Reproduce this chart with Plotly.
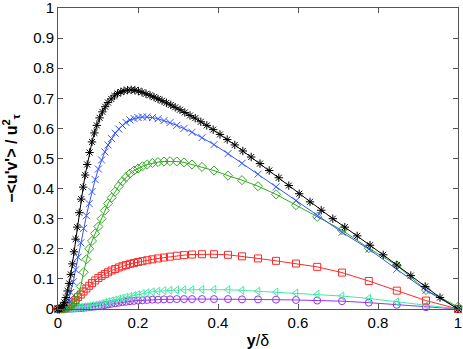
import plotly.graph_objects as go

# wall-normal positions (y/delta) of the stored profile points
y_fine = [0, 0.004, 0.008, 0.012, 0.016, 0.02, 0.024, 0.028, 0.032, 0.036, 0.04, 0.044, 0.048,
          0.053, 0.058, 0.063, 0.068, 0.073, 0.079, 0.085, 0.091, 0.097, 0.104, 0.111, 0.118,
          0.125, 0.133, 0.141, 0.149, 0.157, 0.165, 0.174, 0.183, 0.192, 0.201, 0.21, 0.22,
          0.23, 0.24, 0.25, 0.26, 0.271, 0.282, 0.293, 0.305, 0.317, 0.33, 0.343, 0.357, 0.372,
          0.388, 0.405, 0.423, 0.442, 0.462, 0.483, 0.505, 0.528, 0.552, 0.577, 0.603, 0.63,
          0.658, 0.687, 0.717, 0.748, 0.78, 0.813, 0.847, 0.882, 0.918, 0.955, 1.0]

y_coarse = [0, 0.005, 0.01, 0.015, 0.02, 0.026, 0.032, 0.038, 0.044, 0.05, 0.057, 0.064, 0.071,
            0.078, 0.085, 0.093, 0.101, 0.109, 0.117, 0.125, 0.134, 0.143, 0.152, 0.161, 0.17,
            0.18, 0.19, 0.2, 0.211, 0.223, 0.236, 0.25, 0.265, 0.28, 0.297, 0.315, 0.335, 0.36,
            0.39, 0.425, 0.46, 0.5, 0.545, 0.595, 0.648, 0.71, 0.777, 0.847, 0.92, 1.0]

# -<u'v'>/u_tau^2 profiles
uv_black = [0, 0.001, 0.004, 0.011, 0.022, 0.038, 0.06, 0.085, 0.115, 0.15, 0.19, 0.232, 0.272,
            0.32, 0.365, 0.405, 0.445, 0.48, 0.52, 0.555, 0.585, 0.61, 0.635, 0.655, 0.672,
            0.686, 0.698, 0.708, 0.716, 0.721, 0.725, 0.727, 0.728, 0.727, 0.724, 0.72, 0.715,
            0.71, 0.704, 0.698, 0.692, 0.685, 0.678, 0.67, 0.662, 0.653, 0.643, 0.634, 0.622, 0.61,
            0.596, 0.58, 0.563, 0.545, 0.525, 0.505, 0.483, 0.46, 0.436, 0.41, 0.383, 0.356,
            0.328, 0.3, 0.272, 0.243, 0.212, 0.18, 0.146, 0.111, 0.075, 0.038, 0.0]

uv_blue = [0, 0.0, 0.002, 0.006, 0.013, 0.028, 0.055, 0.09, 0.13, 0.172, 0.22, 0.268, 0.31,
           0.35, 0.39, 0.43, 0.465, 0.495, 0.522, 0.545, 0.566, 0.584, 0.598, 0.61, 0.62,
           0.628, 0.633, 0.636, 0.638, 0.638, 0.636, 0.632, 0.626, 0.619, 0.61, 0.6, 0.587, 0.569,
           0.546, 0.516, 0.484, 0.448, 0.406, 0.36, 0.31, 0.255, 0.199, 0.132, 0.062, 0.0]

uv_green = [0, 0, 0.001, 0.002, 0.004, 0.007, 0.012, 0.018, 0.028, 0.045, 0.075, 0.122, 0.165,
            0.2, 0.226, 0.251, 0.274, 0.3, 0.327, 0.35, 0.37, 0.39, 0.408, 0.424, 0.438,
            0.45, 0.46, 0.467, 0.474, 0.48, 0.485, 0.488, 0.49, 0.491, 0.49, 0.487, 0.48, 0.472,
            0.46, 0.443, 0.428, 0.408, 0.381, 0.345, 0.306, 0.262, 0.202, 0.145, 0.063, 0.007]

uv_red = [0, 0, 0.001, 0.002, 0.005, 0.009, 0.015, 0.022, 0.03, 0.039, 0.048, 0.058, 0.068,
          0.077, 0.086, 0.095, 0.103, 0.11, 0.116, 0.122, 0.128, 0.133, 0.138, 0.142, 0.146,
          0.15, 0.153, 0.156, 0.159, 0.162, 0.165, 0.168, 0.171, 0.174, 0.177, 0.179, 0.181, 0.182,
          0.182, 0.18, 0.175, 0.168, 0.16, 0.151, 0.14, 0.121, 0.093, 0.061, 0.028, 0.0]

uv_cyan = [0, 0, 0, 0.001, 0.001, 0.002, 0.002, 0.003, 0.004, 0.005, 0.006, 0.007, 0.008,
           0.009, 0.011, 0.013, 0.015, 0.018, 0.021, 0.024, 0.027, 0.03, 0.033, 0.036, 0.039,
           0.042, 0.045, 0.048, 0.051, 0.054, 0.057, 0.059, 0.061, 0.062, 0.063, 0.064, 0.064, 0.065,
           0.065, 0.064, 0.062, 0.059, 0.056, 0.053, 0.049, 0.043, 0.035, 0.024, 0.011, 0.0]

uv_purple = [0, 0, 0, 0, 0.001, 0.001, 0.001, 0.002, 0.002, 0.003, 0.003, 0.004, 0.005,
             0.006, 0.007, 0.008, 0.01, 0.011, 0.013, 0.015, 0.017, 0.019, 0.021, 0.023, 0.024,
             0.026, 0.027, 0.028, 0.029, 0.03, 0.031, 0.031, 0.032, 0.032, 0.033, 0.033, 0.033, 0.033,
             0.033, 0.033, 0.032, 0.032, 0.031, 0.03, 0.028, 0.026, 0.021, 0.014, 0.006, 0.0]

x_ticks = [0, 0.2, 0.4, 0.6, 0.8, 1]
x_labels = ['0', '0.2', '0.4', '0.6', '0.8', '1']
y_ticks = [0, 0.1, 0.2, 0.3, 0.4, 0.5, 0.6, 0.7, 0.8, 0.9, 1]
y_labels = ['0', '0.1', '0.2', '0.3', '0.4', '0.5', '0.6', '0.7', '0.8', '0.9', '1']

series = [
    (y_coarse, uv_purple, '#9933EE', 'circle-open'),
    (y_coarse, uv_cyan, '#44E8A8', 'triangle-left-open'),
    (y_coarse, uv_red, '#FF2A2A', 'square-open'),
    (y_coarse, uv_green, '#33AA22', 'diamond-open'),
    (y_coarse, uv_blue, '#3355FF', 'x-thin-open'),
    (y_fine, uv_black, '#000000', 'asterisk-open'),
]

fig = go.Figure()
for xs, ys, col, sym in series:
    fig.add_trace(go.Scatter(
        x=xs, y=ys, mode='lines+markers',
        line=dict(color=col, width=1),
        marker=dict(symbol=sym, size=7, color=col, line=dict(color=col, width=1)),
        showlegend=False, cliponaxis=False
    ))

axis_style = dict(
    range=[0, 1], showgrid=False, zeroline=False, automargin=False,
    showline=True, linecolor='#555555', linewidth=1, mirror='ticks',
    ticks='inside', ticklen=5, tickcolor='#555555', ticklabeloverflow='allow',
    tickfont=dict(family='Liberation Sans, Arial', size=15, color='black'),
)

fig.update_xaxes(axis_style, tickvals=x_ticks, ticktext=x_labels,
                 title=dict(text='<b>y</b>/δ',
                            font=dict(family='Liberation Sans, Arial', size=16, color='black')))
fig.update_yaxes(axis_style, tickvals=y_ticks, ticktext=y_labels,
                 title=dict(text="<b>−&lt;u'v'&gt; / u<sup>2</sup><sub>τ</sub></b>",
                            font=dict(family='Liberation Sans, Arial', size=16, color='black')))

fig.update_layout(
    width=463, height=349,
    margin=dict(l=58, r=5, t=8, b=40),
    paper_bgcolor='white', plot_bgcolor='white',
)

# drop the browser's default page margin so the figure sits at the window origin
fig.write_html("out.html", config={'displayModeBar': False},
               post_script="document.body.style.margin='0';")
